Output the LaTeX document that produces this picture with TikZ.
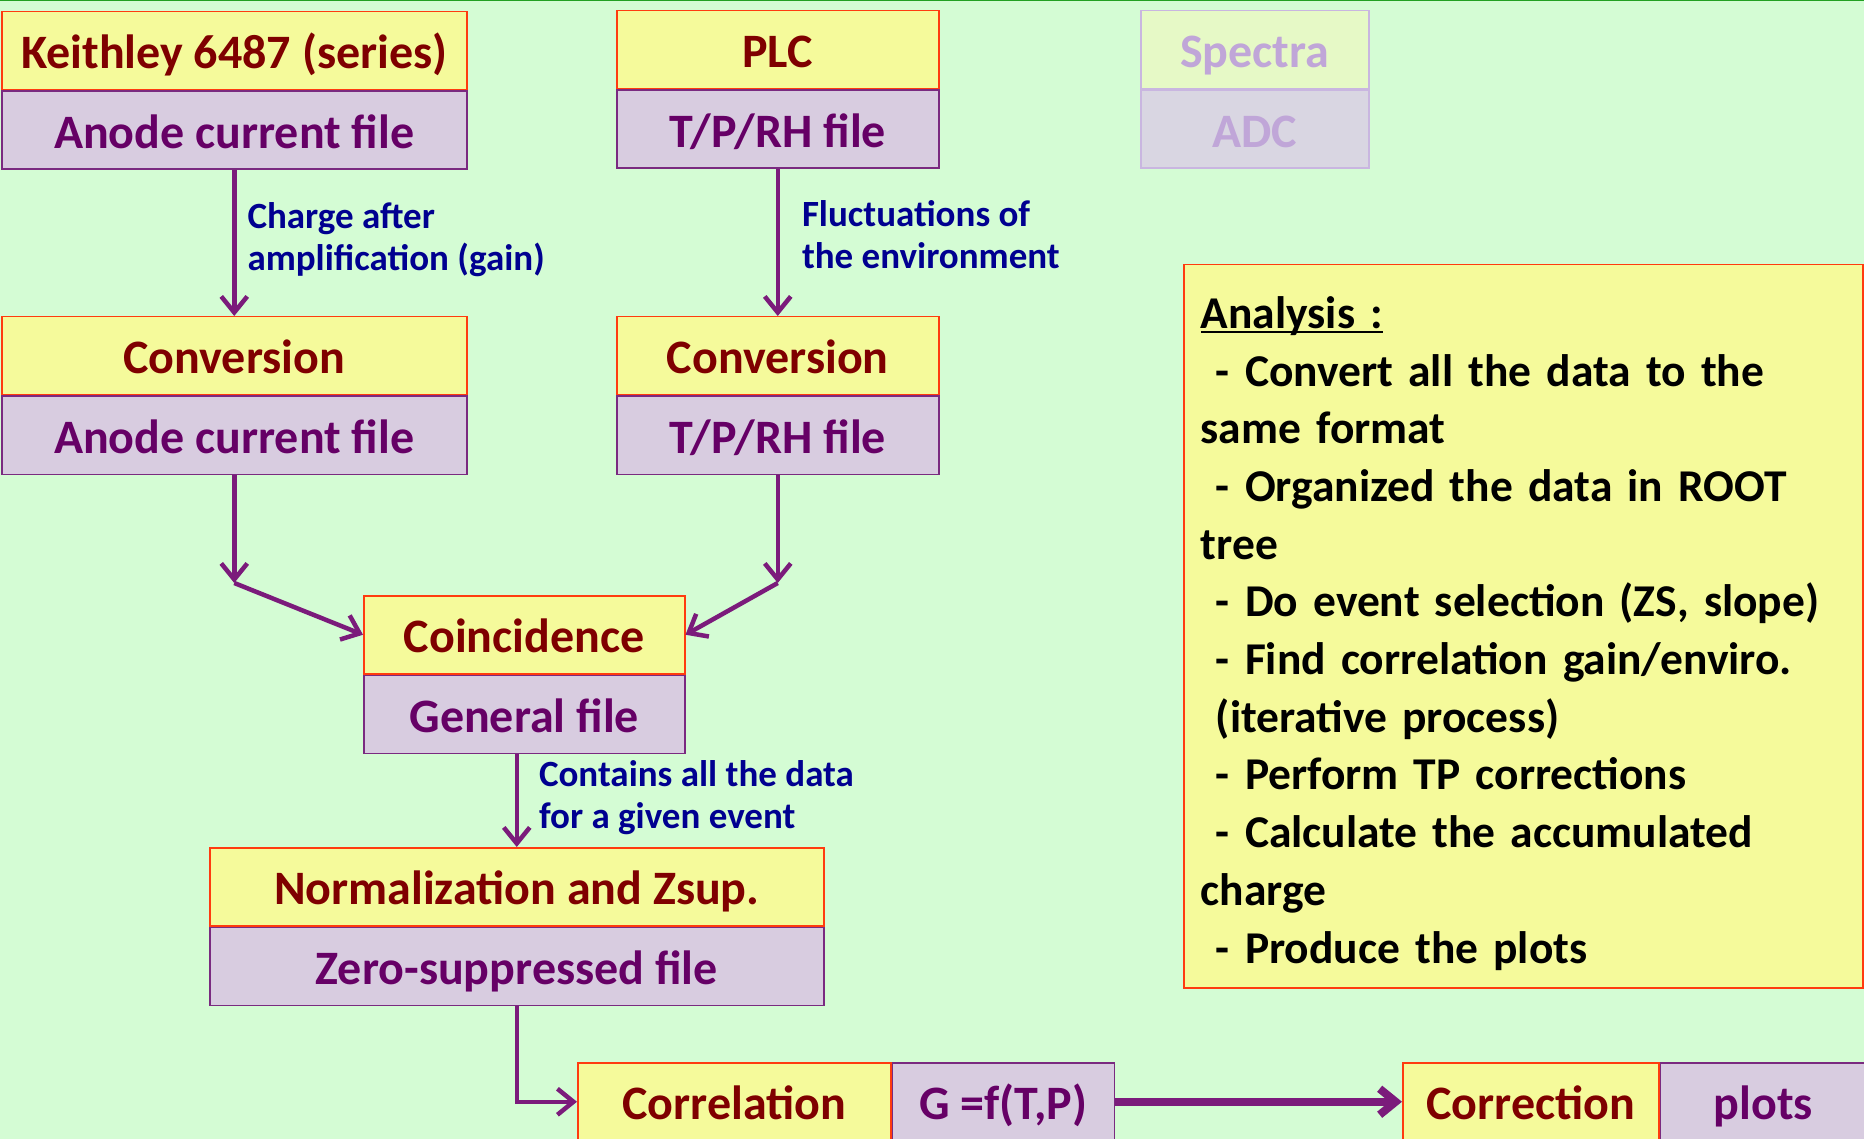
\documentclass[tikz,border=0pt]{standalone}
\usepackage{fontspec}
\setmainfont{Carlito}
\usetikzlibrary{arrows.meta,positioning}
\definecolor{Fondo}{HTML}{D4FCD4}
\definecolor{LineaVerde}{HTML}{22A022}
\definecolor{AmarilloCaja}{HTML}{F5FA9B}
\definecolor{LavandaCaja}{HTML}{D8CCE0}
\definecolor{BordeRojo}{HTML}{FF3B0F}
\definecolor{BordeMorado}{HTML}{7A2A80}
\definecolor{Granate}{HTML}{7F0000}
\definecolor{MoradoTexto}{HTML}{660066}
\definecolor{AzulNota}{HTML}{000090}
\definecolor{Flecha}{HTML}{7B1B7B}
\definecolor{AmarilloGris}{HTML}{E6F9C6}
\definecolor{LavandaGris}{HTML}{D9D6E2}
\definecolor{BordeGris}{HTML}{C9B6E0}
\definecolor{TextoGris}{HTML}{C0A6D8}
\newcommand{\subrayado}[1]{\rlap{\rule[-5pt]{\widthof{#1}}{2.5pt}}#1}
\usepackage{calc}
\tikzset{
  cab/.style      = {draw=BordeRojo, fill=AmarilloCaja, text=Granate,
                     font=\bfseries\fontsize{48}{58}\selectfont, line width=1.5pt,
                     minimum height=78pt, inner sep=0pt, text height=44pt, text depth=8pt},
  fich/.style     = {draw=BordeMorado, fill=LavandaCaja, text=MoradoTexto,
                     font=\bfseries\fontsize{48}{58}\selectfont, line width=1.5pt,
                     minimum height=78pt, inner sep=0pt, text height=44pt, text depth=8pt},
  cabgris/.style  = {cab, draw=BordeGris, fill=AmarilloGris, text=TextoGris},
  fichgris/.style = {fich, draw=BordeGris, fill=LavandaGris, text=TextoGris},
  flecha/.style   = {-{Straight Barb[length=16pt,width=26pt]}, line width=4.5pt, draw=Flecha},
  lbl/.style      = {text=AzulNota, font=\bfseries\fontsize{37}{42}\selectfont,
                     align=left, inner sep=0pt, yshift=3pt},
  nota/.style     = {draw=BordeRojo, fill=AmarilloCaja, line width=1.5pt, align=left,
                     font=\bfseries\fontsize{45.5}{57.7}\selectfont,
                     text width=645pt, inner xsep=17pt, minimum height=723pt},
}

\begin{document}
\begin{tikzpicture}[x=1pt, y=-1pt]
  \useasboundingbox (0,0) rectangle (1864,1139);
  \fill[Fondo] (0,0) rectangle (1864,1139);
  \draw[LineaVerde, line width=3pt] (0,0) -- (1864,0);

  % fuentes de datos
  \node[cab, minimum width=465pt, anchor=north west] (keith) at (1,11) {Keithley 6487 (series)};
  \node[fich, minimum width=465pt, below=0pt of keith] (anodo) {Anode current file};
  \node[cab, minimum width=322pt, anchor=north west] (plc) at (616,10) {PLC};
  \node[fich, minimum width=322pt, below=0pt of plc] (tph) {T/P/RH file};
  \node[cabgris, minimum width=228pt, anchor=north west] (spectra) at (1140,10) {Spectra};
  \node[fichgris, minimum width=228pt, below=0pt of spectra] (adc) {ADC};

  % conversion
  \node[cab, minimum width=465pt, anchor=north west] (convi) at (1,316) {Conversion};
  \node[fich, minimum width=465pt, below=0pt of convi] (anodoc) {Anode current file};
  \node[cab, minimum width=322pt, anchor=north west] (convd) at (616,316) {Conversion};
  \node[fich, minimum width=322pt, below=0pt of convd] (tphc) {T/P/RH file};

  \node[cab, minimum width=321pt, anchor=north west] (coinc) at (363,595) {Coincidence};
  \node[fich, minimum width=321pt, below=0pt of coinc] (general) {General file};

  \node[cab, minimum width=614pt, anchor=north west] (norm) at (209,847) {Normalization and Zsup.};
  \node[fich, minimum width=614pt, below=0pt of norm] (zero) {Zero-suppressed file};

  \node[cab, minimum width=313pt, anchor=north west] (corr) at (577,1062) {Correlation};
  \node[fich, minimum width=222pt, right=0pt of corr] (gtp) {G =f(T,P)};
  \node[cab, minimum width=256pt, anchor=north west] (correc) at (1402,1062) {Correction};
  \node[fich, minimum width=206pt, right=0pt of correc] (plots) {plots};

  \node[nota, anchor=north west] (analisis) at (1183,264) {\rule{0pt}{46pt}\subrayado{Analysis :}\\
    ~- Convert all the data to the\\
    same format\\
    ~- Organized the data in ROOT\\
    tree\\
    ~- Do event selection (ZS, slope)\\
    ~- Find correlation gain/enviro.\\
    ~(iterative process)\\
    ~- Perform TP corrections\\
    ~- Calculate the accumulated\\
    charge\\
    ~- Produce the plots};

  \coordinate[below=108pt of anodoc] (qi);
  \coordinate[below=108pt of tphc] (qd);

  \draw[flecha] (anodo) -- node[lbl, right=11pt]{Charge after\\amplification (gain)} (convi);
  \draw[flecha] (tph) -- node[lbl, right=22pt, yshift=5pt]{Fluctuations of\\the environment} (convd);
  \draw[flecha] (anodoc) -- (qi);
  \draw[flecha] (tphc) -- (qd);
  \draw[flecha] (qi) -- (coinc.west);
  \draw[flecha] (qd) -- (coinc.east);
  \draw[flecha] (general.south -| norm.north) -- node[lbl, right=20pt]{Contains all the data\\for a given event} (norm.north);
  \draw[flecha] (zero.south) |- (corr.west);
  \draw[flecha, line width=8pt] (gtp) -- (correc);
\end{tikzpicture}
\end{document}
